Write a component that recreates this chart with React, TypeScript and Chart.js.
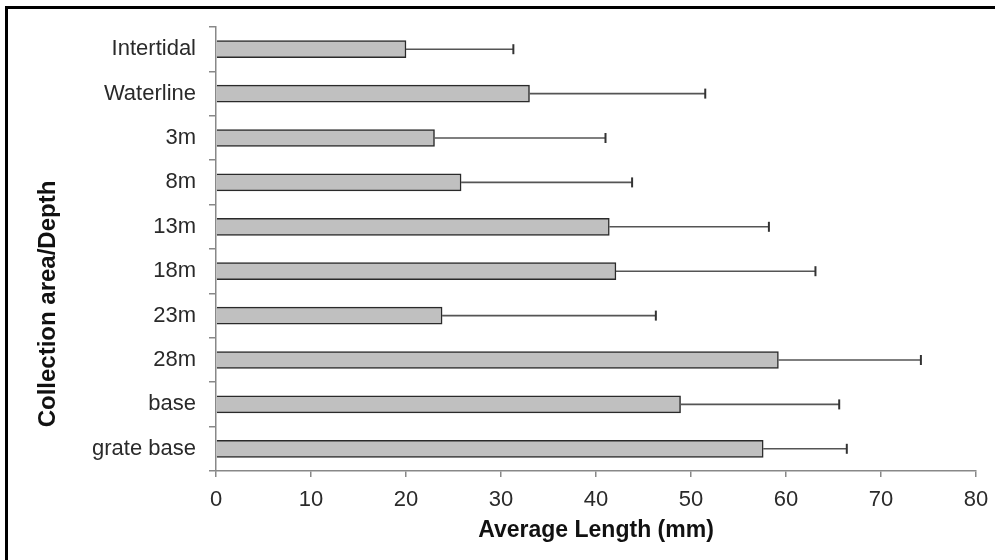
import React, { useEffect, useRef } from "react";
import { Chart, registerables } from "chart.js";

Chart.register(...registerables);

const categories = ["Intertidal", "Waterline", "3m", "8m", "13m", "18m", "23m", "28m", "base", "grate base"];
const meanLength = [20.0, 33.0, 23.0, 25.8, 41.4, 42.1, 23.8, 59.2, 48.9, 57.6];
const errorLength = [11.3, 18.5, 18.0, 18.0, 16.8, 21.0, 22.5, 15.0, 16.7, 8.8];
const xTicks = [0, 10, 20, 30, 40, 50, 60, 70, 80];
const xTitle = "Average Length (mm)";
const yTitle = "Collection area/Depth";

const FONT = "'Liberation Sans', Arial, sans-serif";

const errorBarPlugin = {
  id: "errorBars",
  afterDatasetsDraw(chart: any) {
    const xs = chart.scales.x;
    const ys = chart.scales.y;
    const ctx = chart.ctx;
    ctx.save();
    meanLength.forEach((v, i) => {
      const y = ys.getPixelForValue(i);
      const x0 = xs.getPixelForValue(v);
      const x1 = xs.getPixelForValue(v + errorLength[i]);
      ctx.strokeStyle = "#555";
      ctx.lineWidth = 1.6;
      ctx.beginPath();
      ctx.moveTo(x0, y);
      ctx.lineTo(x1, y);
      ctx.stroke();
      ctx.strokeStyle = "#333";
      ctx.lineWidth = 2;
      ctx.beginPath();
      ctx.moveTo(x1, y - 5);
      ctx.lineTo(x1, y + 5);
      ctx.stroke();
    });
    ctx.restore();
  },
};

const yTitlePlugin = {
  id: "yTitleCustom",
  afterDraw(chart: any) {
    const ctx = chart.ctx;
    ctx.save();
    ctx.translate(48, 304);
    ctx.rotate(-Math.PI / 2);
    ctx.font = `bold 24px ${FONT}`;
    ctx.fillStyle = "#111";
    ctx.textAlign = "center";
    ctx.textBaseline = "middle";
    ctx.fillText(yTitle, 0, 0);
    ctx.restore();
  },
};

export default function App() {
  const ref = useRef<HTMLCanvasElement | null>(null);
  useEffect(() => {
    if (!ref.current) return;
    const chart = new Chart(ref.current, {
      type: "bar",
      data: {
        labels: categories,
        datasets: [
          {
            data: meanLength,
            backgroundColor: "#c0c0c0",
            borderColor: "#2a2a2a",
            borderWidth: 1.5,
            barThickness: 17,
          },
        ],
      },
      options: {
        indexAxis: "y",
        animation: false,
        responsive: false,
        maintainAspectRatio: false,
        layout: { padding: { top: 27, right: 19, bottom: 0, left: 0 } },
        plugins: {
          legend: { display: false },
          tooltip: { enabled: false },
        },
        scales: {
          y: {
            type: "category",
            grid: {
              display: true,
              drawOnChartArea: false,
              offset: true,
              tickLength: 7,
              color: "#888",
              lineWidth: 1.5,
            },
            border: { color: "#888", width: 1.5 },
            ticks: {
              font: { family: FONT, size: 22 },
              color: "#2a2a2a",
              padding: 13,
            },
            afterFit: (scale: any) => {
              scale.width = 216;
              scale.paddingTop = 0;
              scale.paddingBottom = 0;
            },
          },
          x: {
            type: "linear",
            min: 0,
            max: 80,
            afterBuildTicks: (scale: any) => {
              scale.ticks = xTicks.map((v) => ({ value: v }));
            },
            grid: {
              display: true,
              drawOnChartArea: false,
              tickLength: 6,
              color: "#888",
              lineWidth: 1.5,
            },
            border: { color: "#888", width: 1.5 },
            ticks: {
              font: { family: FONT, size: 22 },
              color: "#2a2a2a",
              padding: 10,
            },
            title: {
              display: true,
              text: xTitle,
              font: { family: FONT, size: 23, weight: "bold" },
              color: "#111",
              padding: { top: 0, bottom: 16 },
            },
            afterFit: (scale: any) => {
              scale.height = 89;
              scale.paddingLeft = 0;
              scale.paddingRight = 0;
            },
          },
        },
      },
      plugins: [errorBarPlugin, yTitlePlugin],
    } as any);
    return () => chart.destroy();
  }, []);

  return (
    <div style={{ position: "absolute", left: 0, top: 0, width: 995, height: 560, background: "#fff", overflow: "hidden" }}>
      <canvas ref={ref} width={995} height={560} style={{ position: "absolute", left: 0, top: 0, width: 995, height: 560 }} />
      <div
        style={{
          position: "absolute",
          left: 5,
          top: 6,
          width: 995,
          height: 560,
          borderLeft: "3px solid #000",
          borderTop: "3px solid #000",
          pointerEvents: "none",
        }}
      />
    </div>
  );
}
